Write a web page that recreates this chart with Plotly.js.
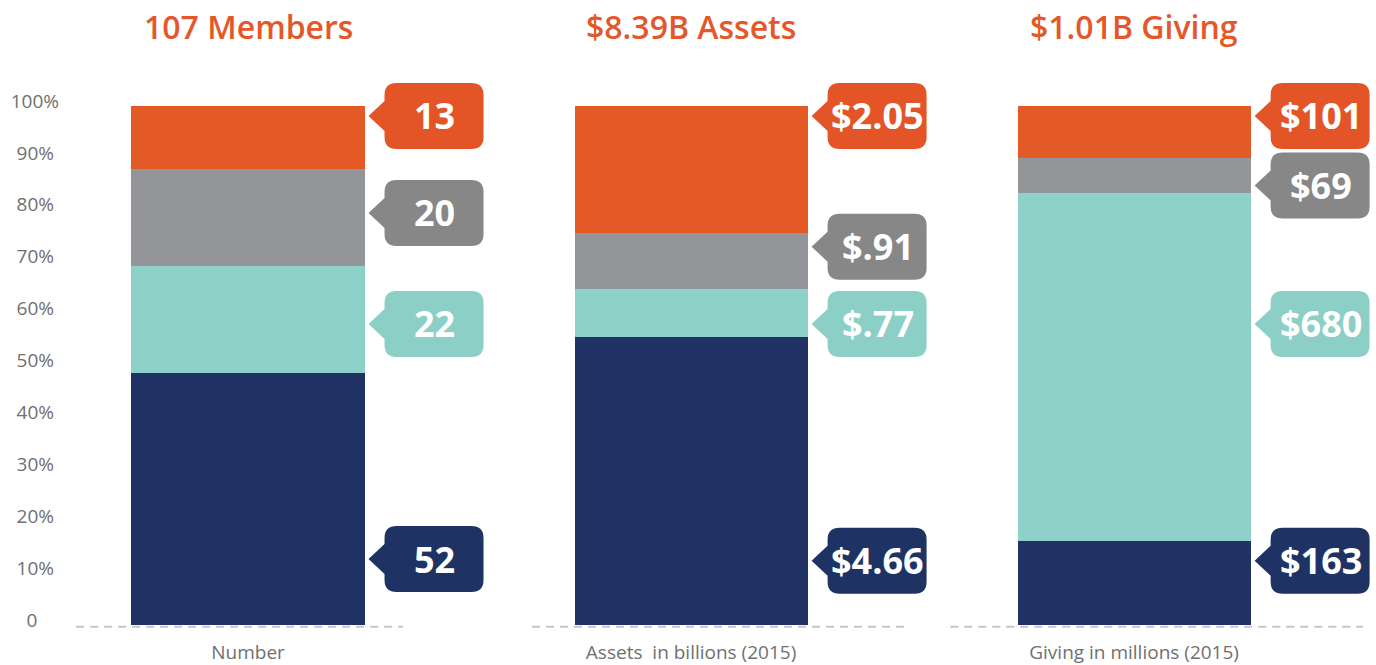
<!DOCTYPE html>
<html>
<head>
<meta charset="utf-8">
<script src="https://cdn.plot.ly/plotly-3.0.1.min.js"></script>
<style>
  html, body { margin: 0; padding: 0; background: #ffffff; }
  #chart { width: 1376px; height: 665px; }
</style>
</head>
<body>
<div id="chart"></div>
<script>
// ---------------- data ----------------
const categories = ['Number', 'Assets\u00a0 in billions (2015)', 'Giving in millions (2015)'];
const panelTitles = ['107 Members', '$8.39B Assets', '$1.01B Giving'];

const navyValues   = [52, 4.66, 163];
const tealValues   = [22, 0.77, 680];
const grayValues   = [20, 0.91, 69];
const orangeValues = [13, 2.05, 101];

const navyLabels   = ['52', '$4.66', '$163'];
const tealLabels   = ['22', '$.77', '$680'];
const grayLabels   = ['20', '$.91', '$69'];
const orangeLabels = ['13', '$2.05', '$101'];

const tickValues = [0, 10, 20, 30, 40, 50, 60, 70, 80, 90, 100];
const tickLabels = ['0', '10%', '20%', '30%', '40%', '50%', '60%', '70%', '80%', '90%', '100%'];

// ---------------- layout / style ----------------
const FONT = '"Open Sans", "Noto Sans", sans-serif';
const colors = {
  navy:   {bar: '#1F3263', tag: '#1E3364'},
  teal:   {bar: '#8DD1C9', tag: '#8BCFC6'},
  gray:   {bar: '#939598', tag: '#878787'},
  orange: {bar: '#E45A27', tag: '#E35526'}
};
const titleColor = '#E4572A';
const axisTextColor = '#707070';
const bargap = 0.474;
const halfBar = (1 - bargap) / 2;

// label (callout) vertical anchors, in y-axis percent units, per bar
const calloutY = {
  navy:   [12.7, 12.4, 12.4],
  teal:   [58.0, 58.0, 58.0],
  gray:   [79.4, 72.9, 84.7],
  orange: [98.1, 98.1, 98.1]
};
// tick-label padding so labels look centered
const tickPad = ['\u2007\u2007', '\u2008', '\u2008', '\u2008', '\u2008', '\u2008', '\u2008', '\u2008', '\u2008', '\u2008', ''];

// dashed baseline extents relative to category centre (x-axis units)
const baseSegs = [[-0.388, 0.35], [-0.359, 0.492], [-0.415, 0.517]];

const series = [
  {name: 'navy',   values: navyValues,   labels: navyLabels},
  {name: 'teal',   values: tealValues,   labels: tealLabels},
  {name: 'gray',   values: grayValues,   labels: grayLabels},
  {name: 'orange', values: orangeValues, labels: orangeLabels}
];

const xIdx = categories.map((c, i) => i);

const traces = series.map(s => ({
  type: 'bar',
  name: s.name,
  x: xIdx,
  y: s.values,
  marker: {color: colors[s.name].bar, line: {width: 0}},
  hoverinfo: 'skip',
  showlegend: false
}));

// callout shape path in pixels relative to the anchor (bar right edge, label centre)
const calloutPath = 'M 4,0 L 20,15 L 20,21 Q 20,33 32,33 L 107,33 Q 119,33 119,21 ' +
                    'L 119,-21 Q 119,-33 107,-33 L 32,-33 Q 20,-33 20,-21 L 20,-15 Z';

const shapes = [];
const annotations = [];

series.forEach(s => {
  xIdx.forEach(i => {
    shapes.push({
      type: 'path', xref: 'x', yref: 'y',
      xsizemode: 'pixel', ysizemode: 'pixel',
      xanchor: i + halfBar, yanchor: calloutY[s.name][i],
      path: calloutPath,
      fillcolor: colors[s.name].tag,
      line: {width: 0},
      layer: 'above'
    });
    annotations.push({
      xref: 'x', yref: 'y',
      x: i + halfBar, y: calloutY[s.name][i],
      xshift: 70, yshift: 0,
      xanchor: 'center', yanchor: 'middle',
      text: s.labels[i],
      showarrow: false,
      font: {family: FONT, size: 36, color: '#ffffff', weight: 700}
    });
  });
});

// panel titles
panelTitles.forEach((t, i) => {
  annotations.push({
    xref: 'x', yref: 'paper',
    x: i, y: 1.0225,
    xanchor: 'center', yanchor: 'middle',
    text: t, showarrow: false,
    font: {family: FONT, size: 32, color: titleColor, weight: 600}
  });
});

// dashed baselines
baseSegs.forEach((seg, i) => {
  shapes.push({
    type: 'line', xref: 'x', yref: 'y',
    x0: i + seg[0], x1: i + seg[1], y0: -0.35, y1: -0.35,
    line: {color: '#C6C6C6', width: 2, dash: '8px,6px'},
    layer: 'below'
  });
});

const layout = {
  width: 1376, height: 665,
  margin: {l: 70, r: 0, t: 40, b: 33, pad: 0},
  paper_bgcolor: '#ffffff', plot_bgcolor: '#ffffff',
  barmode: 'stack', barnorm: 'percent', bargap: bargap,
  font: {family: FONT, color: axisTextColor},
  xaxis: {
    type: 'linear',
    range: [-0.4018, 2.546],
    tickvals: xIdx, ticktext: categories,
    showgrid: false, zeroline: false, showline: false, ticks: '',
    tickfont: {family: FONT, size: 19, color: axisTextColor},
    ticklabelstandoff: 7,
    fixedrange: true
  },
  yaxis: {
    range: [-1.349, 112.72],
    tickvals: tickValues,
    ticktext: tickLabels.map((t, i) => t + tickPad[i]),
    showgrid: false, zeroline: false, showline: false, ticks: '',
    tickfont: {family: FONT, size: 19, color: axisTextColor},
    ticklabelshift: -5,
    ticklabelstandoff: 10,
    fixedrange: true
  },
  shapes: shapes,
  annotations: annotations,
  hovermode: false
};

Plotly.newPlot('chart', traces, layout, {displayModeBar: false, staticPlot: true});
</script>
</body>
</html>
